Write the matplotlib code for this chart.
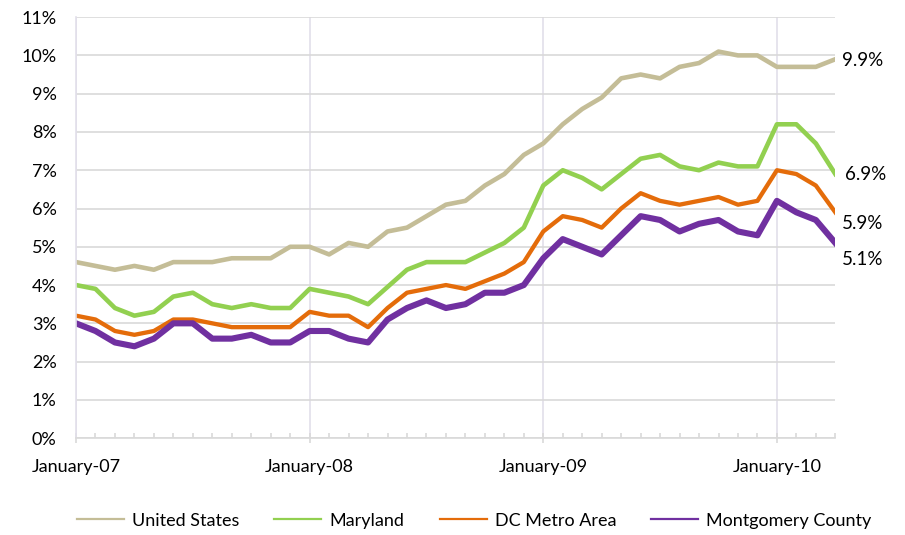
import matplotlib.pyplot as plt
from matplotlib.ticker import FixedLocator, MultipleLocator

plt.rcParams['font.family'] = ['Lato', 'DejaVu Sans']

# monthly unemployment rate, January 2007 - April 2010
months = list(range(40))
month_labels = ['January-07', 'January-08', 'January-09', 'January-10']
pct_ticks = list(range(12))

united_states = [4.6, 4.5, 4.4, 4.5, 4.4, 4.6, 4.6, 4.6, 4.7, 4.7, 4.7, 5.0,
                 5.0, 4.8, 5.1, 5.0, 5.4, 5.5, 5.8, 6.1, 6.2, 6.6, 6.9, 7.4,
                 7.7, 8.2, 8.6, 8.9, 9.4, 9.5, 9.4, 9.7, 9.8, 10.1, 10.0, 10.0,
                 9.7, 9.7, 9.7, 9.9]
maryland = [4.0, 3.9, 3.4, 3.2, 3.3, 3.7, 3.8, 3.5, 3.4, 3.5, 3.4, 3.4,
            3.9, 3.8, 3.7, 3.5, 3.95, 4.4, 4.6, 4.6, 4.6, 4.85, 5.1, 5.5,
            6.6, 7.0, 6.8, 6.5, 6.9, 7.3, 7.4, 7.1, 7.0, 7.2, 7.1, 7.1,
            8.2, 8.2, 7.7, 6.9]
dc_metro = [3.2, 3.1, 2.8, 2.7, 2.8, 3.1, 3.1, 3.0, 2.9, 2.9, 2.9, 2.9,
            3.3, 3.2, 3.2, 2.9, 3.4, 3.8, 3.9, 4.0, 3.9, 4.1, 4.3, 4.6,
            5.4, 5.8, 5.7, 5.5, 6.0, 6.4, 6.2, 6.1, 6.2, 6.3, 6.1, 6.2,
            7.0, 6.9, 6.6, 5.9]
montgomery = [3.0, 2.8, 2.5, 2.4, 2.6, 3.0, 3.0, 2.6, 2.6, 2.7, 2.5, 2.5,
              2.8, 2.8, 2.6, 2.5, 3.1, 3.4, 3.6, 3.4, 3.5, 3.8, 3.8, 4.0,
              4.7, 5.2, 5.0, 4.8, 5.3, 5.8, 5.7, 5.4, 5.6, 5.7, 5.4, 5.3,
              6.2, 5.9, 5.7, 5.1]

fig = plt.figure(figsize=(9.05, 5.35), dpi=100)
ax = fig.add_axes([0.084, 0.181, 0.839, 0.787])

ax.plot(months, united_states, color='#c4bd97', lw=3.3, label='United States')
ax.plot(months, maryland, color='#92d050', lw=3.3, label='Maryland')
ax.plot(months, dc_metro, color='#e46c0a', lw=3.1, label='DC Metro Area')
ax.plot(months, montgomery, color='#7030a0', lw=4.4, label='Montgomery County')

# value labels at the right end (shifted a bit so they do not overlap)
ax.annotate('%.1f%%' % united_states[-1], (months[-1], united_states[-1]), xytext=(5, -1),
            textcoords='offset points', va='center', fontsize=13.5, annotation_clip=False)
ax.annotate('%.1f%%' % maryland[-1], (months[-1], maryland[-1]), xytext=(7, 0),
            textcoords='offset points', va='center', fontsize=13.5, annotation_clip=False)
ax.annotate('%.1f%%' % dc_metro[-1], (months[-1], dc_metro[-1]), xytext=(5, -8),
            textcoords='offset points', va='center', fontsize=13.5, annotation_clip=False)
ax.annotate('%.1f%%' % montgomery[-1], (months[-1], montgomery[-1]), xytext=(5, -12),
            textcoords='offset points', va='center', fontsize=13.5, annotation_clip=False)

ax.set_xlim(0, 39)
ax.set_ylim(0, 11)
ax.set_yticks(pct_ticks)
ax.set_yticklabels(['%d%%' % v for v in pct_ticks])
ax.xaxis.set_major_locator(FixedLocator([0, 12, 24, 36]))
ax.xaxis.set_minor_locator(MultipleLocator(1))
ax.set_xticklabels(month_labels)

ax.grid(axis='y', color='#d9d9d9', lw=1.2)
ax.grid(axis='x', which='major', color='#e2dfea', lw=1.2)
ax.set_axisbelow(True)
for side in ['top', 'right']:
    ax.spines[side].set_visible(False)
ax.spines['left'].set_color('#e2dfea')
ax.spines['bottom'].set_color('#d9d9d9')
ax.spines['left'].set_linewidth(1.2)
ax.spines['bottom'].set_linewidth(1.2)

ax.tick_params(axis='y', length=0, pad=14, labelsize=13)
ax.tick_params(axis='x', which='major', direction='inout', length=7.5, color='#d9d9d9',
               width=1.2, pad=11, labelsize=13)
ax.tick_params(axis='x', which='minor', direction='in', length=3.5, color='#d9d9d9', width=1.2)

leg = fig.legend(loc='center', bbox_to_anchor=(0.524, 0.027), ncol=4, frameon=False,
                 fontsize=13, handlelength=2.6, handletextpad=0.45, columnspacing=1.95)
for line in leg.get_lines():
    line.set_linewidth(1.6)

plt.savefig('out.png', dpi=100)
